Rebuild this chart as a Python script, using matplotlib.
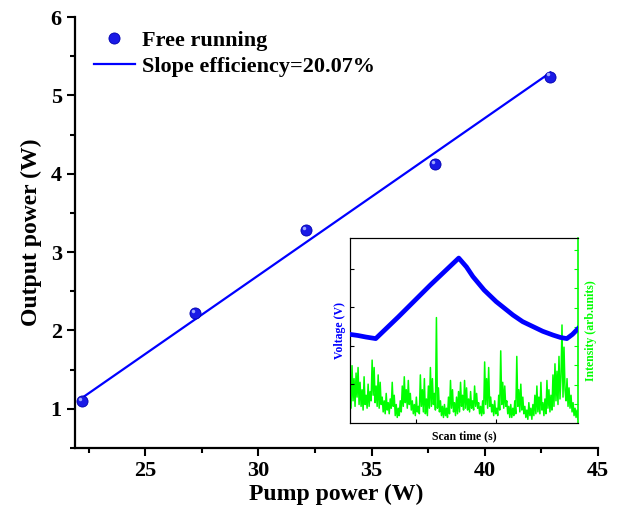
import numpy as np
import matplotlib
matplotlib.use("Agg")
import matplotlib.pyplot as plt
from matplotlib.ticker import MultipleLocator
import matplotlib.transforms as mtransforms

plt.rcParams['font.family'] = ['Liberation Serif', 'DejaVu Serif']
plt.rcParams['font.weight'] = 'bold'

# ------------------------------------
# Output power vs pump power
pump_power = [22.2, 27.2, 32.1, 37.8, 42.9]
output_power = [1.10, 2.22, 3.28, 4.12, 5.24]
slope_eff = 20.07  # %

# ------------------------------------
# Inset: scan voltage (blue) and transmitted intensity (green)
scan_t = [0.00, 0.10, 0.20, 0.32, 0.60, 1.00, 1.354, 1.45, 1.53, 1.67,
          1.82, 2.03, 2.15, 2.28, 2.40, 2.53, 2.62, 2.70, 2.77, 2.84]
voltage = [2.30, 2.27, 2.23, 2.19, 2.75, 3.58, 4.28, 4.05, 3.80, 3.45,
           3.15, 2.80, 2.63, 2.50, 2.38, 2.28, 2.22, 2.19, 2.30, 2.45]

intensity_pct = [
    20, 8, 31, 12, 24, 9, 27, 14, 30, 10,
    22, 9, 18, 7, 25, 10, 15, 8, 21, 9,
    17, 12, 34, 15, 30, 11, 20, 9, 26, 8,
    22, 10, 14, 6, 12, 5, 16, 7, 11, 5,
    13, 8, 22, 9, 15, 4, 10, 3, 8, 4,
    12, 6, 20, 9, 25, 11, 18, 8, 23, 10,
    16, 7, 12, 5, 10, 4, 14, 6, 9, 5,
    26, 9, 18, 6, 24, 5, 13, 4, 20, 8,
    30, 9, 24, 10, 16, 7, 57, 8, 19, 6,
    12, 4, 9, 3, 10, 4, 8, 3, 14, 5,
    23, 8, 18, 6, 11, 4, 14, 5, 17, 6,
    22, 9, 15, 7, 23, 8, 19, 7, 13, 6,
    17, 8, 12, 7, 20, 9, 16, 8, 11, 5,
    9, 4, 12, 5, 33, 10, 24, 8, 30, 9,
    14, 6, 10, 4, 12, 5, 8, 4, 15, 7,
    39, 10, 22, 8, 20, 9, 12, 5, 9, 3,
    10, 3, 8, 4, 12, 5, 36, 9, 18, 6,
    21, 7, 14, 5, 9, 3, 7, 2, 11, 4,
    8, 2, 10, 4, 15, 5, 20, 6, 14, 5,
    22, 7, 11, 4, 13, 5, 23, 8, 18, 6,
    15, 7, 26, 9, 32, 12, 28, 10, 36, 13,
    25, 53, 14, 41, 18, 12, 24, 9, 19, 8,
    15, 6, 11, 4, 8, 3, 7, 2,
]
intensity = np.array(intensity_pct) / 100.0
intensity_t = np.linspace(0, 2.84, len(intensity))

BLUE = '#0000FF'
GREEN = '#00FF00'

fig = plt.figure(figsize=(6.37, 5.11), dpi=100)
ax = fig.add_axes([0.1177, 0.1233, 0.821, 0.8434])

# linear fit with the stated slope
x = np.array(pump_power)
y = np.array(output_power)
k = slope_eff / 100
b = y.mean() - k * x.mean()
xf = np.array([x[0], x[-1]])
ax.plot(xf, k * xf + b, color=BLUE, lw=1.6, label=f'Slope efficiency={slope_eff:.2f}%')

ax.plot(x, y, 'o', color='#1a1ae6', mec='#0000b0', ms=8, mew=0.6,
        label='Free running', zorder=3)
# small highlight on each ball
hl = mtransforms.offset_copy(ax.transData, fig=fig, x=-1.5, y=1.5, units='points')
ax.plot(x, y, 'o', color='#9fa8ff', ms=2.5, mew=0, transform=hl, zorder=4)

ax.set_xlim(21.9, 45)
ax.set_ylim(0.5, 6)
ax.xaxis.set_major_locator(MultipleLocator(5))
ax.xaxis.set_minor_locator(MultipleLocator(2.5))
ax.yaxis.set_major_locator(MultipleLocator(1))
ax.yaxis.set_minor_locator(MultipleLocator(0.5))
ax.tick_params(which='both', direction='out', width=1.5, labelsize=16)
ax.tick_params(which='major', length=6)
ax.tick_params(which='minor', length=3.5)
for s in ['top', 'right']:
    ax.spines[s].set_visible(False)
for s in ['left', 'bottom']:
    ax.spines[s].set_linewidth(1.6)
ax.set_xlabel('Pump power (W)', fontsize=17, fontweight='bold', labelpad=2)
ax.set_ylabel('Output power (W)', fontsize=17, fontweight='bold', labelpad=6)

h, l = ax.get_legend_handles_labels()
ax.legend(h[::-1], l[::-1], loc='upper left', frameon=False, fontsize=16,
          handlelength=1.85, handletextpad=0.35, borderaxespad=0.2,
          labelspacing=0.25, bbox_to_anchor=(0.01, 1.0))

# ------------------------------------
# Inset
ins = fig.add_axes([0.5495, 0.1722, 0.358, 0.362])
ins.plot(scan_t, voltage, color=BLUE, lw=3.4, solid_joinstyle='round', zorder=3)
ins.set_xlim(0, 2.84)
ins.set_ylim(0, 4.8)
ins.set_xticks([0.82, 1.82])
ins.set_yticks([1, 2, 3, 4])
ins.tick_params(direction='in', length=3, width=0.8, labelbottom=False, labelleft=False)
ins.spines['right'].set_visible(False)
ins.set_xlabel('Scan time (s)', fontsize=8.5, fontweight='bold', labelpad=5)
ins.set_ylabel('Voltage (V)', fontsize=8.5, fontweight='bold', color=BLUE, labelpad=3)

ins2 = ins.twinx()
ins2.plot(intensity_t, intensity, color=GREEN, lw=1.1, zorder=1)
ins2.set_ylim(0, 1)
ins2.set_yticks([0.104, 0.208, 0.312, 0.416, 0.52, 0.624, 0.728, 0.832, 0.936])
ins2.tick_params(direction='in', length=3, width=0.8, colors=GREEN, labelright=False)
ins2.spines['right'].set_color(GREEN)
ins2.spines['right'].set_linewidth(1.2)
ins2.set_ylabel('Intensity (arb.units)', fontsize=8.5, fontweight='bold', color=GREEN, labelpad=5)
ins.set_zorder(ins2.get_zorder() + 1)
ins.patch.set_visible(False)

fig.savefig('out.png', dpi=100)
